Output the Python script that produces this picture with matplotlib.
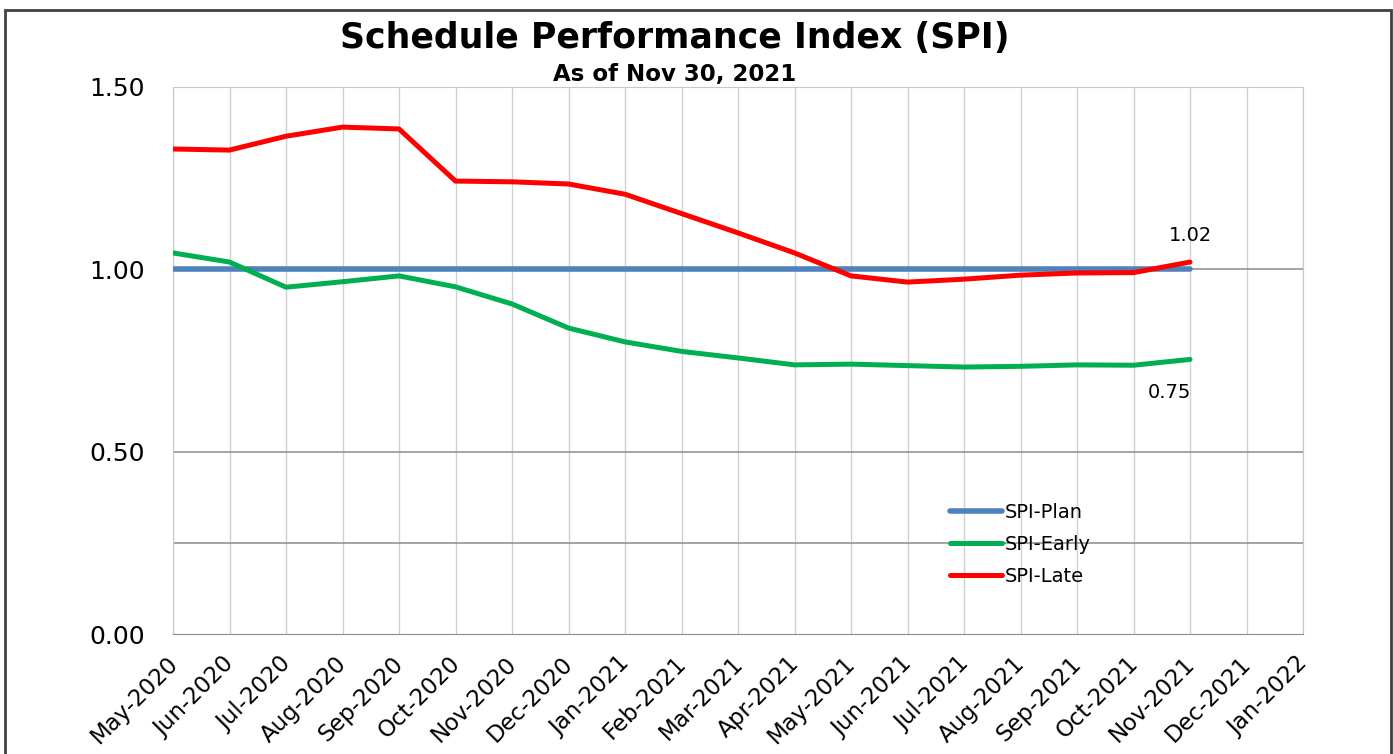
import matplotlib
matplotlib.use("Agg")
import matplotlib.pyplot as plt
from matplotlib.patches import Rectangle
from matplotlib.transforms import ScaledTranslation

months = ["May-2020", "Jun-2020", "Jul-2020", "Aug-2020", "Sep-2020", "Oct-2020",
          "Nov-2020", "Dec-2020", "Jan-2021", "Feb-2021", "Mar-2021", "Apr-2021",
          "May-2021", "Jun-2021", "Jul-2021", "Aug-2021", "Sep-2021", "Oct-2021",
          "Nov-2021", "Dec-2021", "Jan-2022"]

spi_plan = [1.00] * 19
spi_early = [1.045, 1.020, 0.951, 0.966, 0.982, 0.952, 0.905, 0.839, 0.801, 0.775,
             0.757, 0.738, 0.740, 0.736, 0.732, 0.734, 0.738, 0.737, 0.753]
spi_late = [1.330, 1.327, 1.365, 1.390, 1.385, 1.242, 1.240, 1.234, 1.206, 1.153,
            1.100, 1.045, 0.982, 0.965, 0.973, 0.984, 0.990, 0.991, 1.020]

plt.rcParams['font.family'] = ['DejaVu Sans']

fig = plt.figure(figsize=(13.93, 7.54), dpi=100)
ax = fig.add_axes([173/1393, (754-634)/754, (1303-173)/1393, (634-87)/754])

x = list(range(len(spi_plan)))
ax.plot(x, spi_plan, color="#4F81BD", lw=4, solid_capstyle='round', label="SPI-Plan", zorder=3)
ax.plot(x, spi_early, color="#00B050", lw=3.6, solid_capstyle='round', label="SPI-Early", zorder=4)
ax.plot(x, spi_late, color="#FF0000", lw=3.6, solid_capstyle='round', label="SPI-Late", zorder=5)

ax.set_xlim(0, len(months) - 1)
ax.set_ylim(0, 1.5)
ax.set_xticks(range(len(months)))
ax.set_xticklabels(months, rotation=45, ha='right', va='top', rotation_mode='anchor', fontsize=16.5)
ax.set_yticks([0, 0.5, 1.0, 1.5])
ax.set_yticklabels(["0.00", "0.50", "1.00", "1.50"], fontsize=18)
ax.tick_params(axis='both', length=0)
ax.tick_params(axis='y', pad=20)
ax.tick_params(axis='x', pad=13)
shift = ScaledTranslation(-7/100, 0, fig.dpi_scale_trans)
for lbl in ax.get_xticklabels():
    lbl.set_transform(lbl.get_transform() + shift)

for i in range(len(months)):
    ax.axvline(i, color="#d0d0d0", lw=1, zorder=1)
for yv in [0.25, 0.5, 1.0]:
    ax.axhline(yv, color="#8c8c8c", lw=1.1, zorder=1)

for s in ['top', 'right', 'left']:
    ax.spines[s].set_color("#c8c8c8")
ax.spines['bottom'].set_color("#8c8c8c")

ax.annotate(f"{spi_late[-1]:.2f}", (x[-1], spi_late[-1]), xytext=(0, 12), textcoords='offset points',
            ha='center', va='bottom', fontsize=14)
ax.annotate(f"{spi_early[-1]:.2f}", (x[-1], spi_early[-1]), xytext=(-15, -17), textcoords='offset points',
            ha='center', va='top', fontsize=14)

leg = ax.legend(loc='upper left', bbox_to_anchor=((932-173)/1130, (634-485)/547), frameon=False,
                fontsize=14, handlelength=2.7, handletextpad=0.15, labelspacing=0.68)

fig.text(675/1393, 1 - 38/754, "Schedule Performance Index (SPI)", ha='center', va='center',
         fontsize=25, fontweight='bold')
fig.text(675/1393, 1 - 75/754, "As of Nov 30, 2021", ha='center', va='center',
         fontsize=16.5, fontweight='bold')

fig.patches.append(Rectangle((5/1393, -0.05), (1391-5)/1393, 1 - 10/754 + 0.05,
                             transform=fig.transFigure, fill=False, ec="#404040", lw=2))

fig.savefig("out.png", dpi=100)
